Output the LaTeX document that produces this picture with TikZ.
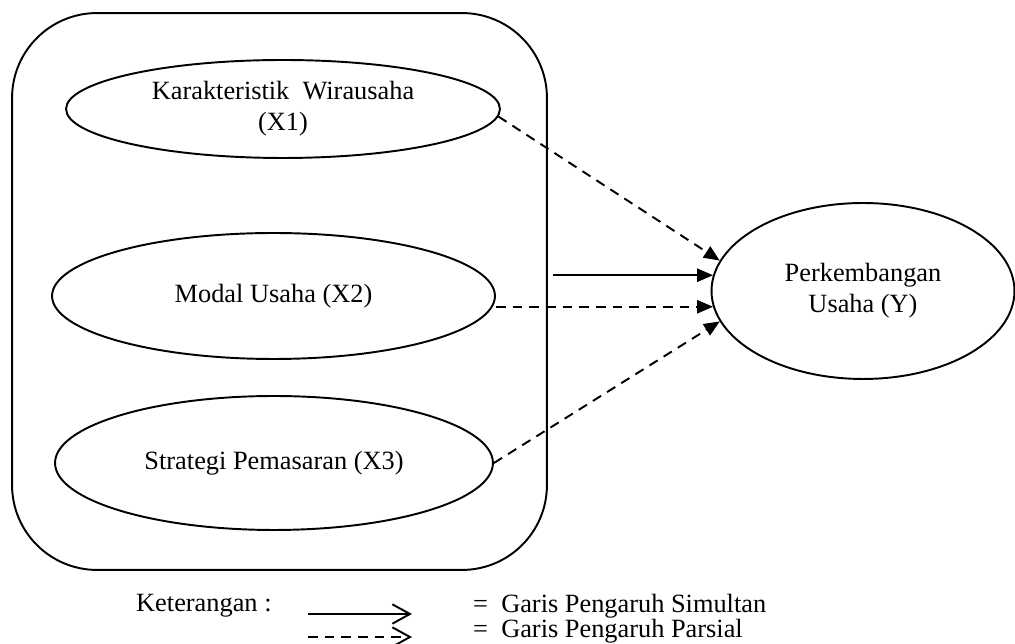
\documentclass[tikz,border=0pt]{standalone}
\usepackage{fontspec}
\setmainfont{Liberation Serif}
\usetikzlibrary{shapes.geometric, arrows.meta, positioning}

\begin{document}
\begin{tikzpicture}[x=0.02cm, y=-0.02cm,
    font=\fontsize{15}{17.5}\selectfont,
    variabel/.style={draw, ellipse, line width=1.1pt, inner sep=0pt, align=center},
    simultan/.style={-{Triangle[length=9pt,width=7.5pt]}, line width=1.1pt},
    parsial/.style={simultan, dash pattern=on 5.5pt off 4pt},
    legenda/.style={-{Straight Barb[length=10pt,width=11pt]}, line width=1.1pt}]
    \useasboundingbox (0,0) rectangle (1015,644);

    % Kotak variabel bebas
    \node[draw, line width=1.1pt, rounded corners=1.7cm, minimum width=10.7cm,
          minimum height=11.14cm, inner sep=0pt] (grup) at (279.5,291.5) {};

    % Variabel X
    \node[variabel, minimum width=8.68cm, minimum height=1.96cm] (x1) at (283,109) {Karakteristik\ \ Wirausaha\\(X1)};
    \node[variabel, minimum width=8.86cm, minimum height=2.52cm] (x2) at (273.5,296) {Modal Usaha (X2)};
    \node[variabel, minimum width=8.76cm, minimum height=2.68cm] (x3) at (274,463) {Strategi Pemasaran (X3)};

    % Variabel Y
    \node[variabel, minimum width=6.06cm, minimum height=3.52cm] (y) at (863,291) {Perkembangan\\Usaha (Y)};

    % Garis pengaruh
    \draw[parsial] (x1.-2) -- (y.168);
    \draw[simultan] ([xshift=0.1cm]grup.east |- y.174) -- (y.174);
    \draw[parsial] (x2.east |- y.186) -- (y.186);
    \draw[parsial] (x3.east) -- (y.192);

    % Keterangan
    \node[anchor=west] (ket) at (130,606) {Keterangan :};
    \coordinate (s1) at (308,614);
    \coordinate (s2) at (412,614);
    \coordinate (p1) at (308,637);
    \coordinate (p2) at (412,637);
    \draw[legenda] (s1) -- (s2);
    \draw[legenda, dash pattern=on 5.5pt off 4pt] (p1) -- (p2);
    \node[anchor=west] (ks) at (467,606) {=\ \ Garis Pengaruh Simultan};
    \node[anchor=west] (kp) at (467,631) {=\ \ Garis Pengaruh Parsial};
\end{tikzpicture}
\end{document}
